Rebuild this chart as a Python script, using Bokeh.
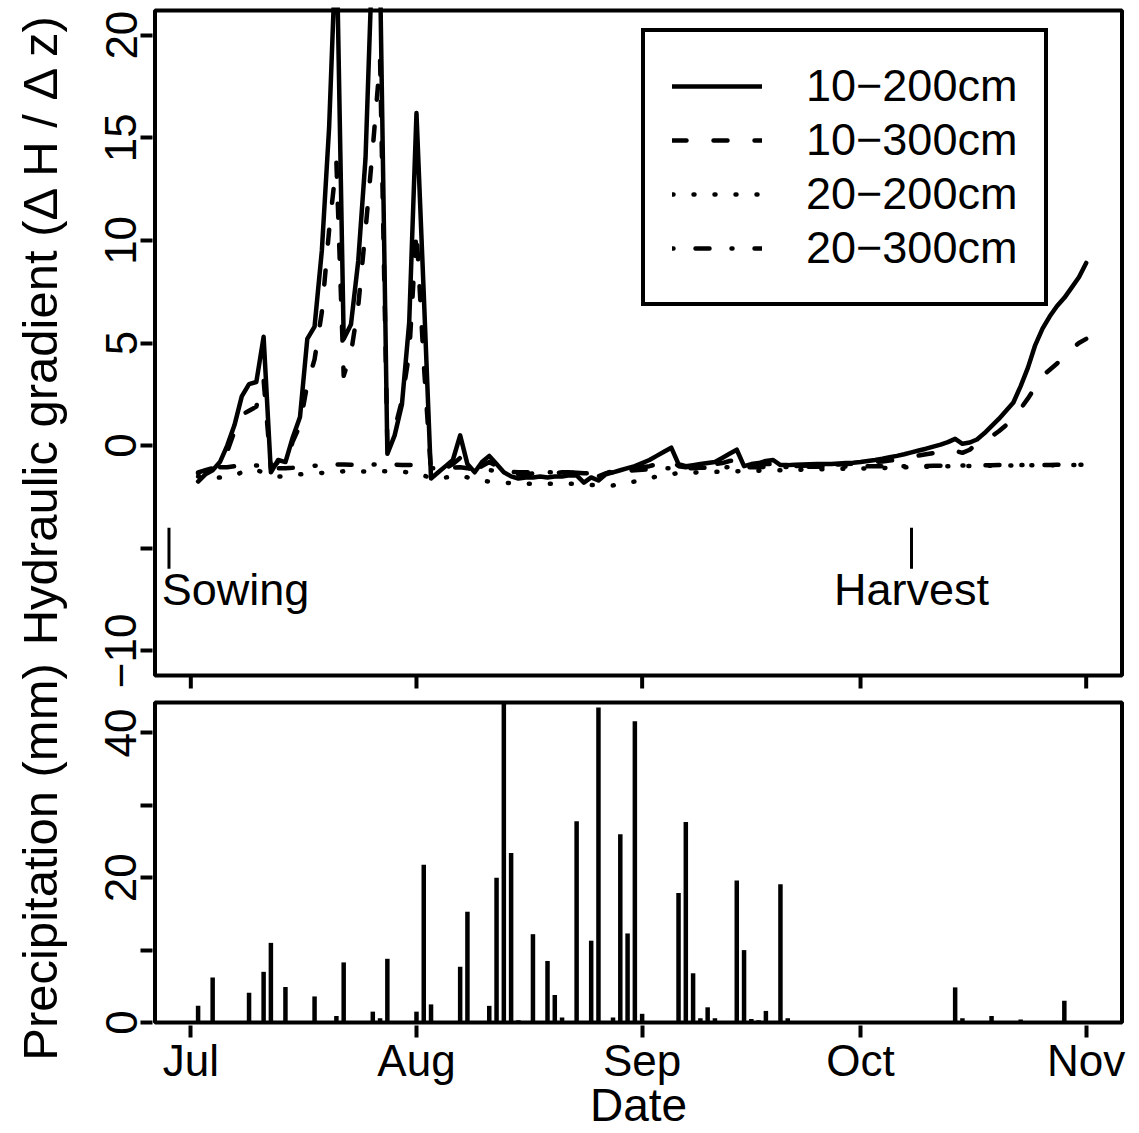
import math
import pandas as pd
from bokeh.plotting import figure
from bokeh.models import Range1d, FixedTicker, DatetimeTickFormatter, Legend, LegendItem, Label
from bokeh.embed import file_html
from bokeh.resources import INLINE
from bokeh.core.properties import value

# ---------------- data ----------------
line_start = "2011-07-02"          # daily values, Jul 2 .. Nov 1
grad_10_200 = [
    -1.75, -1.4, -1.2, -0.8, 0.0, 1.0, 2.4, 3.0, 3.1, 5.3,
    -1.3, -0.7, -0.8, 0.4, 1.4, 5.2, 5.8, 9.5, 15.5, 25.0,
    5.2, 5.9, 9.0, 14.0, 24.5, 23.0, -0.4, 0.5, 2.0, 6.0,
    16.2, 7.4, -1.6, -1.3, -1.0, -0.7, 0.5, -0.9, -1.3, -0.8,
    -0.5, -0.9, -1.3, -1.5, -1.6, -1.55, -1.55, -1.5, -1.55, -1.5,
    -1.5, -1.45, -1.45, -1.8, -1.55, -1.7, -1.4, -1.3, -1.2, -1.1,
    -1.0, -0.85, -0.7, -0.5, -0.3, -0.1, -0.9, -1.0, -0.95, -0.9,
    -0.85, -0.8, -0.6, -0.4, -0.2, -1.0, -0.9, -0.85, -0.75, -0.7,
    -0.95, -0.95, -0.93, -0.92, -0.91, -0.9, -0.9, -0.89, -0.87, -0.85,
    -0.83, -0.8, -0.75, -0.7, -0.64, -0.57, -0.5, -0.42, -0.33, -0.24,
    -0.15, -0.05, 0.05, 0.17, 0.33, 0.09, 0.15, 0.3, 0.6, 0.95,
    1.3, 1.7, 2.1, 2.9, 3.8, 4.9, 5.7, 6.3, 6.8, 7.2,
    7.7, 8.2, 8.9,
]
grad_10_300 = [
    -1.3, -1.2, -1.1, -0.9, -0.3, 0.7, 1.5, 1.7, 1.9, 3.2,
    -1.1, -0.8, -0.8, 0.2, 1.0, 3.0, 4.2, 6.5, 10.5, 13.8,
    3.4, 4.5, 6.8, 10.5, 14.5, 18.8, 0.1, 0.8, 2.2, 4.5,
    10.5, 4.0, -1.3, -1.2, -1.1, -0.9, -0.6, -0.9, -1.2, -1.0,
    -0.8, -1.0, -1.2, -1.35, -1.4, -1.4, -1.35, -1.35, -1.4, -1.35,
    -1.3, -1.3, -1.35, -1.5, -1.45, -1.5, -1.35, -1.3, -1.25, -1.2,
    -1.1, -1.05, -1.0, -0.9, -0.8, -0.7, -1.0, -1.05, -1.0, -1.0,
    -0.95, -0.9, -0.85, -0.75, -0.7, -1.0, -0.95, -0.95, -0.9, -0.9,
    -1.0, -1.0, -1.0, -0.98, -0.97, -0.96, -0.95, -0.94, -0.92, -0.9,
    -0.88, -0.86, -0.83, -0.8, -0.77, -0.73, -0.68, -0.62, -0.55, -0.48,
    -0.42, -0.36, -0.3, -0.2, -0.25, -0.35, -0.2, 0.1, 0.3, 0.45,
    0.7, 1.0, 1.35, 1.8, 2.3, 2.85, 3.4, 3.7, 4.0, 4.4,
    4.7, 5.0, 5.2,
]
grad_20_200 = [
    -1.5, -1.55, -1.6, -1.55, -1.5, -1.45, -1.3, -1.15, -1.2, -1.3,
    -1.45, -1.5, -1.5, -1.45, -1.4, -1.38, -1.35, -1.33, -1.3, -1.28,
    -1.25, -1.25, -1.26, -1.26, -1.26, -1.25, -1.25, -1.27, -1.28, -1.3,
    -1.32, -1.45, -1.6, -1.58, -1.55, -1.5, -1.45, -1.55, -1.7, -1.72,
    -1.75, -1.78, -1.8, -1.83, -1.86, -1.86, -1.86, -1.86, -1.86, -1.86,
    -1.86, -1.86, -1.86, -1.9, -1.92, -1.94, -1.94, -1.94, -1.85, -1.8,
    -1.75, -1.7, -1.6, -1.5, -1.42, -1.38, -1.35, -1.33, -1.31, -1.3,
    -1.29, -1.28, -1.27, -1.26, -1.25, -1.24, -1.23, -1.22, -1.21, -1.2,
    -1.2, -1.19, -1.18, -1.17, -1.16, -1.15, -1.15, -1.14, -1.13, -1.13,
    -1.12, -1.12, -1.11, -1.1, -1.09, -1.08, -1.07, -1.06, -1.05, -1.04,
    -1.03, -1.02, -1.01, -1.0, -1.0, -0.99, -0.99, -0.98, -0.98, -0.98,
    -0.97, -0.97, -0.97, -0.97, -0.96, -0.96, -0.96, -0.96, -0.95, -0.95,
    -0.95, -0.95, -0.95,
]
grad_20_300 = [
    -1.35, -1.2, -1.1, -1.05, -1.05, -1.0, -1.0, -0.98, -0.97, -0.97,
    -1.05, -1.1, -1.1, -1.08, -1.05, -1.0, -0.98, -0.95, -0.93, -0.92,
    -0.92, -0.93, -0.93, -0.92, -0.92, -0.92, -0.92, -0.93, -0.94, -0.95,
    -0.95, -1.0, -1.1, -1.1, -1.1, -1.08, -1.05, -1.1, -1.2, -1.2,
    -1.2, -1.22, -1.25, -1.28, -1.3, -1.3, -1.3, -1.3, -1.3, -1.3,
    -1.3, -1.3, -1.32, -1.35, -1.35, -1.35, -1.3, -1.28, -1.25, -1.22,
    -1.2, -1.18, -1.15, -1.12, -1.1, -1.1, -1.1, -1.1, -1.1, -1.08,
    -1.08, -1.07, -1.06, -1.05, -1.05, -1.05, -1.05, -1.05, -1.04, -1.04,
    -1.04, -1.04, -1.04, -1.03, -1.03, -1.03, -1.03, -1.02, -1.02, -1.02,
    -1.02, -1.01, -1.01, -1.01, -1.0, -1.0, -1.0, -1.0, -0.99, -0.99,
    -0.99, -0.98, -0.98, -0.98, -0.97, -0.97, -0.97, -0.96, -0.96, -0.96,
    -0.95, -0.95, -0.95, -0.95, -0.94, -0.94, -0.94, -0.94, -0.93, -0.93,
    -0.93, -0.93, -0.93,
]
series_labels = ["10\u2212200cm", "10\u2212300cm", "20\u2212200cm", "20\u2212300cm"]

precip_start = "2011-07-01"        # daily values, Jul 1 .. Oct 31
precip_mm = [
    0, 2.3, 0, 6.2, 0, 0, 0, 0, 4.1, 0,
    7.0, 11.0, 0, 4.9, 0, 0, 0, 3.6, 0, 0,
    0.9, 8.3, 0, 0, 0, 1.5, 0.6, 8.8, 0, 0,
    0, 1.5, 21.8, 2.5, 0.2, 0, 0, 7.7, 15.3, 0,
    0, 2.3, 20.0, 44.2, 23.4, 0.3, 0, 12.2, 0, 8.5,
    3.8, 0.7, 0, 27.8, 0, 11.3, 43.5, 0, 0.7, 26.0,
    12.3, 41.6, 1.2, 0, 0, 0, 0, 17.9, 27.7, 6.8,
    0.6, 2.1, 0.6, 0, 0, 19.6, 10.0, 0.5, 0.3, 1.6,
    0, 19.1, 0.6, 0, 0, 0, 0, 0, 0, 0,
    0, 0, 0, 0, 0, 0, 0, 0, 0, 0,
    0, 0, 0, 0, 0, 4.85, 0.6, 0, 0, 0,
    0.9, 0, 0, 0, 0.4, 0, 0, 0, 0, 0,
    3.0, 0, 0,
]

month_ticks = ["2011-07-01", "2011-08-01", "2011-09-01", "2011-10-01", "2011-11-01"]
grad_ylim = (-10, 20)
grad_ticks = [-10, -5, 0, 5, 10, 15, 20]
grad_tick_labels = ["\u221210", "", "0", "5", "10", "15", "20"]
precip_ticks = [0, 10, 20, 30, 40]
precip_tick_labels = ["0", "", "20", "", "40"]

y_titles = ["Hydraulic gradient (\u0394 H / \u0394 z)", "Precipitation (mm)"]
x_title = "Date"

sowing_date, sowing_label_date = "2011-06-28", "2011-06-27"
harvest_date = "2011-10-08"
event_mark_y = (-4, -6)
event_text_y = -7

# ---------------- layout constants (pixels, page coordinates) ----------------
FONT = "Liberation Sans"
FS = "44px"          # tick labels
TFS = "45px"         # annotations / legend
XTFS = "46px"        # x title
YTFS = "49px"        # y titles
W, H = 1139, 1133
OFF = 12                                      # canvas starts OFF px left of the page
FL, FR, FT, FB = 152, 1124, 7, 1025          # plotting frame
BOX_L, BOX_R = 154.5, 1121.5                  # panel boxes, x
G_TOP, G_BOT = 10, 675                        # gradient panel, y
P_TOP, P_BOT = 702, 1022                      # precipitation panel, y
YLAB_X = 39
YLAB_Y = (327.5, 861.5)
BAR_PX = 4.5


def to_ms(d):
    return pd.Timestamp(d).value / 1e6


line_x = [to_ms(d) for d in pd.date_range(line_start, periods=len(grad_10_200), freq="D")]
precip_x = [to_ms(d) for d in pd.date_range(precip_start, periods=len(precip_mm), freq="D")]
month_x = [to_ms(d) for d in month_ticks]

x_lo, x_hi = min(line_x[0], precip_x[0]), max(line_x[-1], precip_x[-1])
x_ext = 0.04 * (x_hi - x_lo)
bx0, bx1 = x_lo - x_ext, x_hi + x_ext
ppx = (BOX_R - BOX_L) / (bx1 - bx0)

g_span = grad_ylim[1] - grad_ylim[0]
g_lo, g_hi = grad_ylim[0] - 0.04 * g_span, grad_ylim[1] + 0.04 * g_span
ppg = (G_BOT - G_TOP) / (g_hi - g_lo)

p_lo, p_hi = 0.0, max(precip_mm)
ppp = (P_BOT - P_TOP) / (p_hi - p_lo)


def px_to_grad(py):
    return g_lo + (G_BOT - py) / ppg


def px_to_x(px):
    return bx0 + (px - BOX_L) / ppx


def precip_to_grad(m):
    return px_to_grad(P_BOT - (m - p_lo) * ppp)


p = figure(width=W + OFF, height=H, x_axis_type="datetime",
           x_range=Range1d(px_to_x(FL), px_to_x(FR)),
           y_range=Range1d(px_to_grad(FB), px_to_grad(FT)),
           output_backend="svg", toolbar_location=None,
           min_border_left=FL + OFF, min_border_right=W - FR,
           min_border_top=FT, min_border_bottom=H - FB,
           margin=(0, 0, 0, -OFF))
p.extra_y_ranges = {"precip": Range1d(p_lo - (FB - P_BOT) / ppp, p_hi + (P_TOP - FT) / ppp)}
p.outline_line_color = None
p.grid.visible = False
p.background_fill_color = "white"
p.border_fill_color = "white"

# ---- left axis (ticks of both panels) ----
def js_key(t):
    t = float(t)
    return str(int(t)) if t.is_integer() else repr(t)

yticks, overrides = [], {}
for t, lab in zip(grad_ticks, grad_tick_labels):
    yticks.append(float(t))
    overrides[float(t)] = lab
    overrides[js_key(t)] = lab
for t, lab in zip(precip_ticks, precip_tick_labels):
    g = precip_to_grad(t)
    yticks.append(g)
    overrides[g] = lab
    overrides[js_key(g)] = lab

ya = p.yaxis[0]
ya.ticker = FixedTicker(ticks=yticks, minor_ticks=[])
ya.major_label_overrides = overrides
ya.axis_line_color = None
ya.major_tick_out = 12
ya.major_tick_in = 0
ya.major_tick_line_width = 4
ya.minor_tick_line_color = None
ya.major_label_orientation = "vertical"
ya.major_label_text_font = FONT
ya.major_label_text_font_size = FS
ya.major_label_text_color = "black"
ya.major_label_standoff = 4

xa = p.xaxis[0]
xa.ticker = FixedTicker(ticks=month_x, minor_ticks=[])
xa.formatter = DatetimeTickFormatter(days="%b", months="%b", years="%b")
xa.axis_line_color = None
xa.major_tick_out = 12
xa.major_tick_in = 0
xa.major_tick_line_width = 4
xa.minor_tick_line_color = None
xa.major_label_text_font = FONT
xa.major_label_text_font_size = FS
xa.major_label_text_color = "black"
xa.major_label_standoff = -2
xa.axis_label = x_title
xa.axis_label_text_font = FONT
xa.axis_label_text_font_size = XTFS
xa.axis_label_text_font_style = "normal"
xa.axis_label_text_color = "black"
xa.axis_label_standoff = -9

# ---- panel boxes ----
p.quad(left=[bx0], right=[bx1], bottom=[g_lo], top=[g_hi], fill_color=None,
       line_color="black", line_width=4)
p.quad(left=[bx0], right=[bx1], bottom=[p_lo], top=[p_hi], fill_color=None,
       line_color="black", line_width=4, y_range_name="precip")
# ticks under the upper panel
p.segment(x0=month_x, x1=month_x, y0=[g_lo] * len(month_x),
          y1=[g_lo - 13 / ppg] * len(month_x), line_color="black", line_width=4)

# ---- gradient lines ----
common = dict(line_color="black", line_width=4.5, line_cap="round", line_join="round")
r1 = p.line(line_x, grad_10_200, **common)
r2 = p.line(line_x, grad_10_300, line_dash="14 27", **common)
r3 = p.line(line_x, grad_20_200, line_dash="1 20", **common)
r4 = p.line(line_x, grad_20_300, line_dash="1 22 14 22", **common)

# ---- sowing / harvest ----
ev_x = [to_ms(sowing_date), to_ms(harvest_date)]
p.segment(x0=ev_x, x1=ev_x, y0=[event_mark_y[0]] * 2, y1=[event_mark_y[1]] * 2,
          line_color="black", line_width=3)
p.text(x=[to_ms(sowing_label_date)], y=[event_text_y], text=["Sowing"],
       text_align="left", text_baseline="middle", text_font=value(FONT),
       text_font_size=TFS, text_color="black")
p.text(x=[to_ms(harvest_date)], y=[event_text_y], text=["Harvest"],
       text_align="center", text_baseline="middle", text_font=value(FONT),
       text_font_size=TFS, text_color="black")

# ---- precipitation bars ----
p.vbar(x=precip_x, top=precip_mm, bottom=0, width=BAR_PX / ppx, fill_color="black",
       line_color=None, y_range_name="precip")

# ---- legend ----
legend = Legend(items=[LegendItem(label=lab, renderers=[r])
                       for lab, r in zip(series_labels, [r1, r2, r3, r4])],
                location=(641 - FL, FB - 306), margin=0, padding=27, spacing=0,
                glyph_width=90, glyph_height=54, label_height=54, label_standoff=44,
                label_text_font=FONT, label_text_font_size=TFS, label_text_color="black",
                border_line_color="black", border_line_width=4, border_line_alpha=1.0,
                background_fill_color="white", background_fill_alpha=1.0)
p.add_layout(legend)

# ---- y-axis titles, kept in the left side panel ----
for txt, ypx in zip(y_titles, YLAB_Y):
    p.add_layout(Label(x=px_to_x(YLAB_X), y=px_to_grad(ypx), text=txt, angle=math.pi / 2,
                       text_align="center", text_baseline="middle", text_font=FONT,
                       text_font_size=YTFS, text_color="black"), "left")

open("out.html", "w").write(file_html(p, INLINE))
